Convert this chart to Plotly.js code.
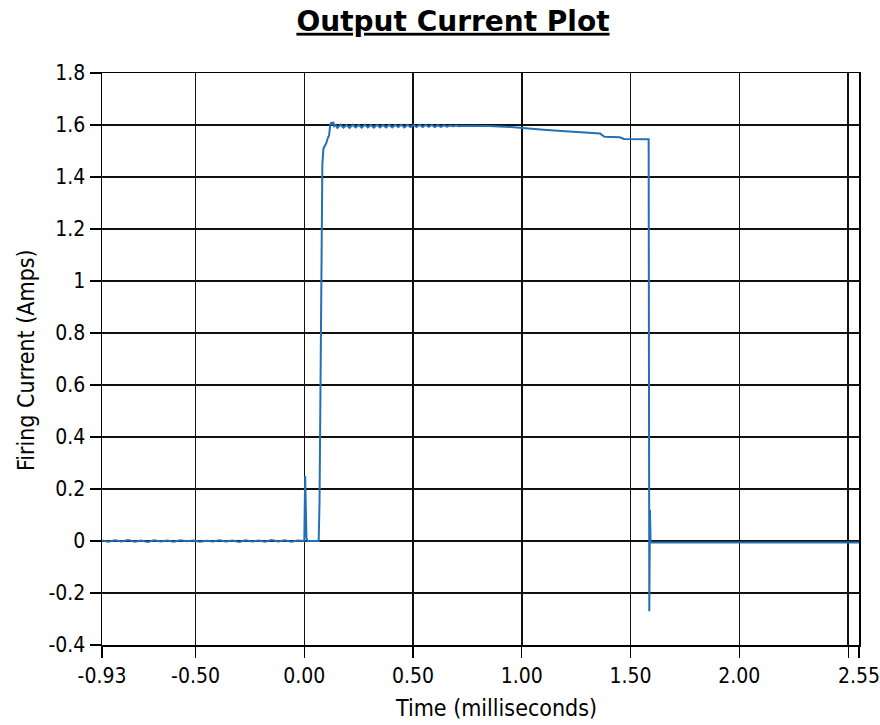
<!DOCTYPE html>
<html>
<head>
<meta charset="utf-8">
<script src="https://cdn.plot.ly/plotly-3.0.1.min.js"></script>
<style>html,body{margin:0;padding:0;background:#fff;}#chart{width:880px;height:725px;}</style>
</head>
<body>
<div id="chart"></div>
<script>
// Time in milliseconds and firing current in amps
const baselineTime = [-0.93,-0.90,-0.87,-0.84,-0.81,-0.78,-0.75,-0.72,-0.69,-0.66,-0.63,-0.60,-0.57,-0.54,-0.51,-0.48,-0.45,-0.42,-0.39,-0.36,-0.33,-0.30,-0.27,-0.24,-0.21,-0.18,-0.15,-0.12,-0.09,-0.06,-0.03,-0.01];
const baselineCurrent = [0.002,-0.003,0.003,-0.002,0.004,-0.003,0.002,-0.004,0.003,-0.002,0.002,-0.003,0.003,-0.001,0.002,-0.003,0.001,-0.002,0.003,-0.002,0.002,-0.004,0.003,-0.002,0.002,-0.003,0.004,-0.002,0.003,-0.003,0.002,0.001];

const riseTime = [0.000,0.004,0.010,0.015,0.066,0.070,0.073,0.076,0.079,0.083,0.088,0.095,0.101,0.108,0.114,0.119,0.124,0.128,0.133,0.138,0.145];
const riseCurrent = [0.0,0.25,0.01,0.0,0.0,0.15,0.45,1.00,1.32,1.45,1.51,1.52,1.53,1.55,1.56,1.60,1.61,1.60,1.612,1.595,1.600];

const plateauTime = [0.152,0.166,0.180,0.194,0.208,0.222,0.236,0.250,0.264,0.278,0.292,0.306,0.320,0.334,0.348,0.362,0.376,0.390,0.404,0.418,0.432,0.446,0.460,0.474,0.488,0.502,0.516,0.530,0.544,0.558,0.572,0.586,0.600,0.614,0.628,0.642,0.656,0.670,0.684,0.698,0.712,0.726,0.740,0.754,0.768,0.782,0.796];
const plateauCurrent = [1.589,1.601,1.590,1.600,1.589,1.601,1.591,1.600,1.590,1.601,1.591,1.600,1.590,1.601,1.591,1.600,1.591,1.601,1.591,1.600,1.592,1.601,1.591,1.600,1.592,1.600,1.592,1.601,1.592,1.600,1.593,1.600,1.592,1.599,1.593,1.599,1.594,1.598,1.595,1.598,1.595,1.597,1.596,1.597,1.596,1.597,1.596];

const droopTime = [0.85,0.95,1.00,1.10,1.20,1.30,1.36,1.38,1.45,1.47,1.583];
const droopCurrent = [1.596,1.592,1.588,1.582,1.576,1.570,1.567,1.555,1.553,1.546,1.545];

const fallTime = [1.586,1.589,1.592,1.596,1.80,2.00,2.20,2.40,2.55];
const fallCurrent = [-0.27,0.12,-0.004,-0.006,-0.006,-0.006,-0.007,-0.006,-0.006];

const timeMs = [].concat(baselineTime, riseTime, plateauTime, droopTime, fallTime);
const currentAmps = [].concat(baselineCurrent, riseCurrent, plateauCurrent, droopCurrent, fallCurrent);

const xTickVals = [-0.93,-0.5,0,0.5,1,1.5,2,2.5,2.55];
const xTickText = ["-0.93","-0.50","0.00","0.50","1.00","1.50","2.00","","2.55"];
const yTickVals = [-0.4,-0.2,0,0.2,0.4,0.6,0.8,1,1.2,1.4,1.6,1.8];
const yTickText = ["-0.4","-0.2","0","0.2","0.4","0.6","0.8","1","1.2","1.4","1.6","1.8"];

const fontFam = "DejaVu Sans Condensed, Roboto, sans-serif";

const trace = {
  x: timeMs, y: currentAmps, type: 'scatter', mode: 'lines',
  line: {color: '#2470b4', width: 2},
  hoverinfo: 'skip'
};

const axisCommon = {
  showline: true, linecolor: '#000', linewidth: 1.5, mirror: true,
  showgrid: true, gridcolor: '#111', gridwidth: 1.5,
  zeroline: false,
  ticks: 'outside', ticklen: 11, tickcolor: '#000', tickwidth: 1.2,
  tickfont: {family: fontFam, size: 21, color: '#000'},
  tickmode: 'array',
  ticklabeloverflow: 'allow'
};

const layout = {
  width: 880, height: 725,
  margin: {l: 102, r: 21, t: 73, b: 80},
  paper_bgcolor: '#fff', plot_bgcolor: '#fff',
  showlegend: false,
  title: {
    text: '<b>Output Current Plot</b>',
    font: {family: 'DejaVu Sans, sans-serif', size: 28, color: '#000', lineposition: 'under'},
    x: 453/880, xanchor: 'center', xref: 'container',
    y: 1 - 21/725, yanchor: 'middle', yref: 'container'
  },
  xaxis: Object.assign({}, axisCommon, {
    range: [-0.93, 2.55], tickvals: xTickVals, ticktext: xTickText,
    title: {text: ''}
  }),
  yaxis: Object.assign({}, axisCommon, {
    range: [-0.4, 1.8], tickvals: yTickVals, ticktext: yTickText,
    title: {text: ''}
  }),
  annotations: [
    {text: 'Time (milliseconds)', xref: 'paper', yref: 'paper', x: (496-102)/757, y: -(708-645)/572,
     xanchor: 'center', yanchor: 'middle', showarrow: false,
     font: {family: fontFam, size: 23, color: '#000'}},
    {text: 'Firing Current (Amps)', xref: 'paper', yref: 'paper', x: -(102-26)/757, y: (645-360)/572,
     xanchor: 'center', yanchor: 'middle', showarrow: false, textangle: -90,
     font: {family: fontFam, size: 23, color: '#000'}}
  ]
};

Plotly.newPlot('chart', [trace], layout, {staticPlot: true, displayModeBar: false});
</script>
</body>
</html>
